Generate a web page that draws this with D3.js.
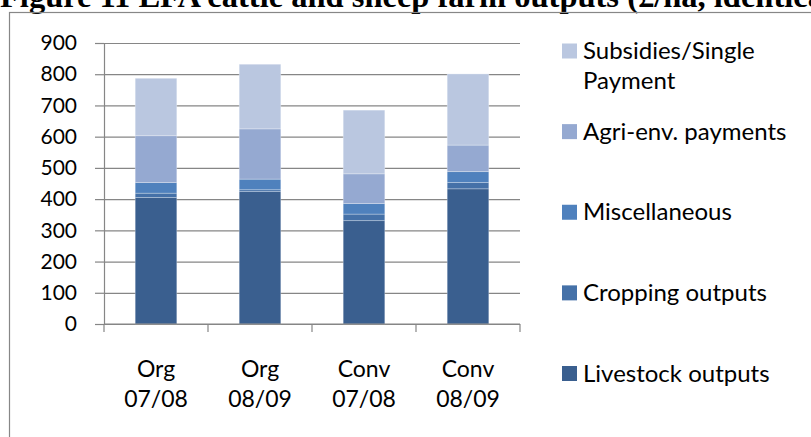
<!DOCTYPE html>
<html>
<head>
<meta charset="utf-8">
<script src="https://cdn.jsdelivr.net/npm/d3@7"></script>
<style>
  body { margin: 0; background: #fff; }
  text { font-family: Lato, "Noto Sans", sans-serif; fill: #000; }
</style>
</head>
<body>
<div id="chart"></div>
<script>
// data (£/ha)
var categories = [["Org", "07/08"], ["Org", "08/09"], ["Conv", "07/08"], ["Conv", "08/09"]];
var seriesNames = ["Livestock outputs", "Cropping outputs", "Miscellaneous", "Agri-env. payments", "Subsidies/Single Payment"];
var livestock = [405, 424, 331, 433];
var cropping = [14, 6, 21, 20];
var misc = [34, 34, 34, 35];
var agriEnv = [150, 161, 95, 85];
var subsidies = [184, 207, 204, 228];
var yTicks = [0, 100, 200, 300, 400, 500, 600, 700, 800, 900];

var colours = ["#3a5f8f", "#4571a8", "#4f81bd", "#95a9d1", "#bac7e0"];
var legendLines = [["Livestock outputs"], ["Cropping outputs"], ["Miscellaneous"], ["Agri-env. payments"], ["Subsidies/Single", "Payment"]];

var W = 811, H = 437;
var plot = {left: 104, right: 520, top: 43, bottom: 324};

var svg = d3.select("#chart").append("svg")
  .attr("width", W).attr("height", H);

// title (cut off at the top of the picture, as in the source page)
svg.append("text")
  .attr("x", 0).attr("y", 7)
  .style("font-family", "'Liberation Serif', 'Times New Roman', serif")
  .style("font-weight", "bold")
  .style("font-size", "32.5px")
  .text("Figure 11 LFA cattle and sheep farm outputs (£/ha, identical farms)");

// chart area border
svg.append("rect")
  .attr("x", 9.5).attr("y", 12.5)
  .attr("width", 900).attr("height", 500)
  .attr("fill", "none").attr("stroke", "#878787").attr("stroke-width", 1.2);

var keys = categories.map(function(c) { return c.join(" "); });
var x = d3.scaleBand().domain(keys)
  .range([plot.left, plot.right]).paddingInner(0.6).paddingOuter(0.3);
var y = d3.scaleLinear().domain([0, 900]).range([plot.bottom, plot.top]);

// gridlines
svg.append("g")
  .attr("transform", "translate(" + plot.left + ",0)")
  .call(d3.axisLeft(y).tickValues(yTicks).tickSize(-(plot.right - plot.left)).tickFormat(""))
  .call(function(g) { g.select(".domain").remove(); })
  .selectAll("line").attr("stroke", "#868686").attr("stroke-width", 1.2);

// stacked bars
var table = categories.map(function(c, i) {
  return {key: keys[i], s0: livestock[i], s1: cropping[i], s2: misc[i], s3: agriEnv[i], s4: subsidies[i]};
});
var stack = d3.stack().keys(["s0", "s1", "s2", "s3", "s4"])(table);

svg.append("g").selectAll("g")
  .data(stack).enter().append("g")
  .attr("fill", function(d, i) { return colours[i]; })
  .selectAll("rect")
  .data(function(d) { return d; }).enter().append("rect")
  .attr("x", function(d) { return x(d.data.key); })
  .attr("width", x.bandwidth())
  .attr("y", function(d) { return y(d[1]); })
  .attr("height", function(d) { return y(d[0]) - y(d[1]); })
  .attr("stroke", "#ffffff").attr("stroke-opacity", 0.35).attr("stroke-width", 0.8);

// y axis
var yAxis = svg.append("g")
  .attr("transform", "translate(" + plot.left + ",0)")
  .call(d3.axisLeft(y).tickValues(yTicks).tickSize(9).tickPadding(18).tickSizeOuter(0));
yAxis.selectAll("line").attr("stroke", "#868686").attr("stroke-width", 1.2);
yAxis.select(".domain").attr("stroke", "#868686").attr("stroke-width", 1.2);
yAxis.selectAll("text").style("font-size", "21px").attr("fill", "#000");

// x axis with ticks between categories
var xAxis = svg.append("g");
xAxis.append("line")
  .attr("x1", plot.left).attr("x2", plot.right)
  .attr("y1", y(0)).attr("y2", y(0))
  .attr("stroke", "#868686").attr("stroke-width", 1.2);
xAxis.selectAll(".xt")
  .data(d3.range(categories.length + 1)).enter().append("line")
  .attr("x1", function(i) { return plot.left + i * x.step(); })
  .attr("x2", function(i) { return plot.left + i * x.step(); })
  .attr("y1", y(0)).attr("y2", y(0) + 8)
  .attr("stroke", "#868686").attr("stroke-width", 1.2);

var xl = xAxis.selectAll(".xl")
  .data(categories).enter().append("text")
  .attr("text-anchor", "middle")
  .style("font-size", "23px")
  .attr("transform", function(d, i) { return "translate(" + (x(keys[i]) + x.bandwidth() / 2) + ",0)"; });
xl.append("tspan").attr("x", 0).attr("y", 377).text(function(d) { return d[0]; });
xl.append("tspan").attr("x", 0).attr("y", 407).text(function(d) { return d[1]; });

// legend, top item is the top of the stack
var legendY = d3.scalePoint().domain([4, 3, 2, 1, 0]).range([51, 373.5]);
var lg = svg.append("g").selectAll("g")
  .data(seriesNames).enter().append("g")
  .attr("transform", function(d, i) { return "translate(562," + legendY(i) + ")"; });
lg.append("rect")
  .attr("x", 0).attr("y", -7.5).attr("width", 15).attr("height", 15)
  .attr("fill", function(d, i) { return colours[i]; });
var lt = lg.append("text").style("font-size", "24px");
lt.selectAll("tspan")
  .data(function(d, i) { return legendLines[i]; }).enter().append("tspan")
  .attr("x", 21).attr("y", function(d, j) { return 8 + j * 30; })
  .text(function(d) { return d; });
</script>
</body>
</html>
